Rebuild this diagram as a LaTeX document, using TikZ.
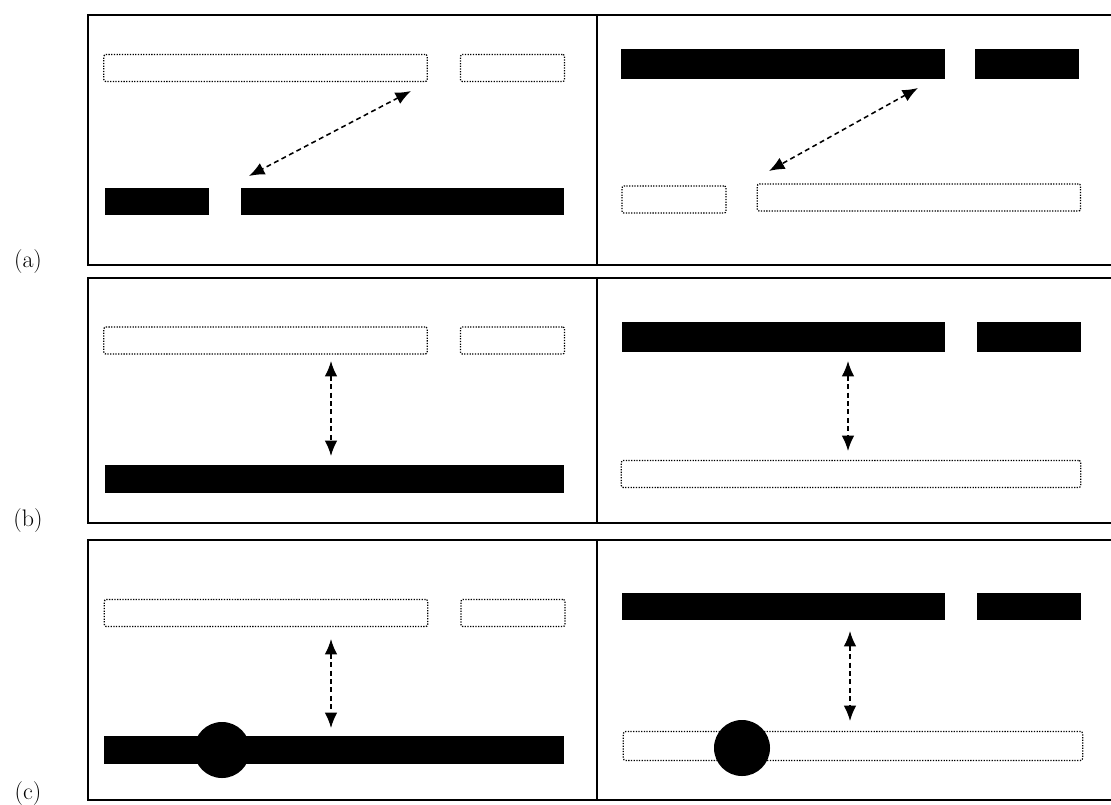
\documentclass[tikz,border=0pt]{standalone}
\usepackage{tikz}
\usepackage{xcolor}
\usetikzlibrary{positioning,arrows.meta}

\begin{document}
\begin{tikzpicture}[x=0.025cm, y=-0.025cm, >={Latex[length=11pt,width=9pt]}]
    \tikzstyle{frame}=[line width=1.3pt]
    \tikzstyle{bar}=[rectangle, inner sep=0pt, minimum height=0.68cm]
    \tikzstyle{dotbar}=[bar, draw, densely dotted, line width=0.9pt, rounded corners=1.5pt]
    \tikzstyle{blackbar}=[bar, fill=black]
    \tikzstyle{longbar}=[minimum width=8.08cm]
    \tikzstyle{shortbar}=[minimum width=2.6cm]
    \tikzstyle{fullbar}=[minimum width=11.48cm]
    \tikzstyle{blob}=[circle, fill=black, inner sep=0pt, minimum size=1.4cm]
    \tikzstyle{biarrow}=[<->, dash pattern=on 3.5pt off 2.5pt, line width=1.1pt]
    \tikzstyle{tag}=[font=\fontsize{17}{19}\selectfont, inner sep=0pt]

    \useasboundingbox (0,0) rectangle (1111,804);

    % frames
    \draw[frame] (1111,15) -- (88,15) -- (88,265) -- (1111,265);
    \draw[frame] (597,15) -- (597,265);
    \draw[frame] (1111,278) -- (88,278) -- (88,523) -- (1111,523);
    \draw[frame] (597,278) -- (597,523);
    \draw[frame] (1111,540) -- (88,540) -- (88,800) -- (1111,800);
    \draw[frame] (597,540) -- (597,800);

    \node[tag] (labA) at (28,262) {(a)};
    \node[tag] (labB) at (28,521) {(b)};
    \node[tag] (labC) at (28,794) {(c)};

    % (a) left
    \node[dotbar, longbar] (aLtop) at (265.5,68) {};
    \node[dotbar, shortbar, right=0.8cm of aLtop] (aLtopS) {};
    \node[blackbar, shortbar] (aLbotS) at (157,201.5) {};
    \node[blackbar, longbar, right=0.78cm of aLbotS] (aLbot) {};
    \coordinate (aLp) at (411,91);
    \coordinate (aLq) at (249,176);
    \draw[biarrow] (aLp) -- (aLq);

    % (a) right
    \node[blackbar, longbar, minimum height=0.75cm] (aRtop) at (783,64) {};
    \node[blackbar, shortbar, minimum height=0.75cm, right=0.75cm of aRtop] (aRtopS) {};
    \node[dotbar, shortbar] (aRbotS) at (674,199.5) {};
    \node[dotbar, longbar, right=0.75cm of aRbotS, yshift=0.05cm] (aRbot) {};
    \coordinate (aRp) at (918,88);
    \coordinate (aRq) at (769,171);
    \draw[biarrow] (aRp) -- (aRq);

    % (b) left
    \node[dotbar, longbar] (bLtop) at (265.5,340.5) {};
    \node[dotbar, shortbar, right=0.8cm of bLtop] (bLtopS) {};
    \node[blackbar, fullbar] (bLbot) at (334.5,479) {};
    \coordinate (bLp) at (331,361);
    \coordinate (bLq) at (331,456);
    \draw[biarrow] (bLp) -- (bLq);

    % (b) right
    \node[blackbar, longbar, minimum height=0.75cm] (bRtop) at (783.5,337) {};
    \node[blackbar, shortbar, minimum height=0.75cm, right=0.78cm of bRtop] (bRtopS) {};
    \node[dotbar, fullbar] (bRbot) at (851,474) {};
    \coordinate (bRp) at (848,361);
    \coordinate (bRq) at (848,451);
    \draw[biarrow] (bRp) -- (bRq);

    % (c) left
    \node[dotbar, longbar] (cLtop) at (266,613) {};
    \node[dotbar, shortbar, right=0.8cm of cLtop] (cLtopS) {};
    \node[blackbar, fullbar] (cLbot) at (334,750) {};
    \node[blob] (cLdot) at (222,750) {};
    \coordinate (cLp) at (331,639);
    \coordinate (cLq) at (331,728);
    \draw[biarrow] (cLp) -- (cLq);

    % (c) right
    \node[blackbar, longbar] (cRtop) at (783.5,606.5) {};
    \node[blackbar, shortbar, right=0.78cm of cRtop] (cRtopS) {};
    \node[dotbar, fullbar, minimum height=0.72cm] (cRbot) at (853,746) {};
    \node[blob] (cRdot) at (742,748) {};
    \coordinate (cRp) at (850,631);
    \coordinate (cRq) at (850,721);
    \draw[biarrow] (cRp) -- (cRq);
\end{tikzpicture}
\end{document}
